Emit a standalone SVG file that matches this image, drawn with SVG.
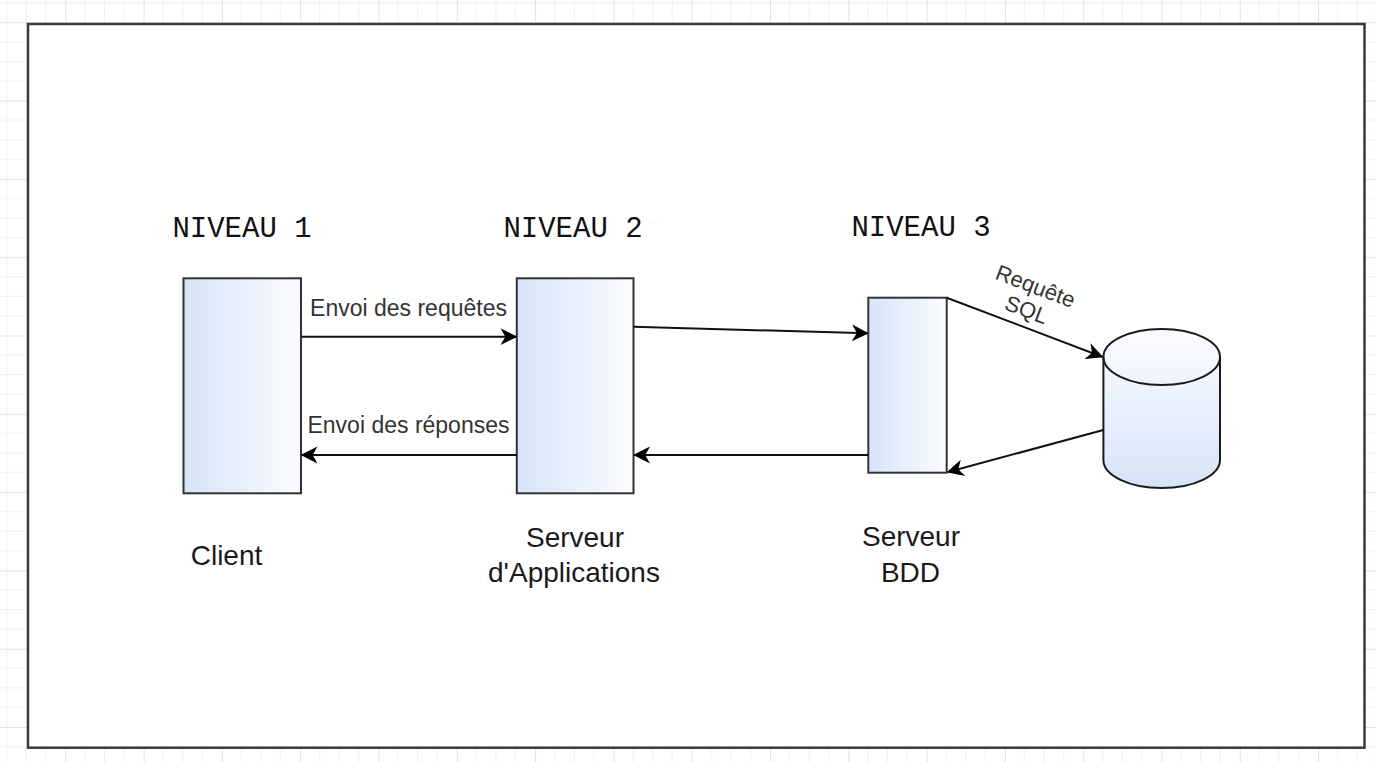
<svg xmlns="http://www.w3.org/2000/svg" width="1376" height="762" viewBox="0 0 1376 762">
  <style>
    .frame{fill:#ffffff;stroke:#3a3a3a;stroke-width:2.5}
    .box{fill:url(#boxGrad);stroke:#333333;stroke-width:2}
    .cyl{fill:url(#cylGrad);stroke:#1a1a1a;stroke-width:2}
    .conn{fill:none;stroke:#111111;stroke-width:2;marker-end:url(#arr)}
    .lbl{font-family:"Liberation Sans",Arial,sans-serif;font-size:23px;fill:#333333;text-anchor:middle}
    .lvl{font-family:"Liberation Mono","Courier New",monospace;font-size:29px;fill:#111111;text-anchor:middle}
    .name{font-family:"Liberation Sans",Arial,sans-serif;font-size:28px;fill:#1a1a1a;text-anchor:middle}
    .sql{font-family:"Liberation Sans",Arial,sans-serif;font-size:22px;fill:#333333;text-anchor:middle}
    .gmin{stroke:#efefef;stroke-width:1}
    .gmaj{stroke:#e2e2e2;stroke-width:1}
  </style>
  <defs>
    <pattern id="grid" patternUnits="userSpaceOnUse" x="65.3" y="22.3" width="78.3" height="78.3">
      <line class="gmin" x1="19.575" y1="0" x2="19.575" y2="78.3"/>
      <line class="gmin" x1="39.15" y1="0" x2="39.15" y2="78.3"/>
      <line class="gmin" x1="58.725" y1="0" x2="58.725" y2="78.3"/>
      <line class="gmin" x1="0" y1="19.575" x2="78.3" y2="19.575"/>
      <line class="gmin" x1="0" y1="39.15" x2="78.3" y2="39.15"/>
      <line class="gmin" x1="0" y1="58.725" x2="78.3" y2="58.725"/>
      <line class="gmaj" x1="0.5" y1="0" x2="0.5" y2="78.3"/>
      <line class="gmaj" x1="0" y1="0.5" x2="78.3" y2="0.5"/>
    </pattern>
    <linearGradient id="boxGrad" x1="0" y1="0" x2="1" y2="0">
      <stop offset="0" stop-color="#d6e4f8"/>
      <stop offset="1" stop-color="#fafcff"/>
    </linearGradient>
    <linearGradient id="cylGrad" x1="0" y1="0" x2="0" y2="1">
      <stop offset="0" stop-color="#fbfcff"/>
      <stop offset="1" stop-color="#d6e4f8"/>
    </linearGradient>
    <marker id="arr" viewBox="-16 -9 18 18" refX="0" refY="0" markerWidth="18" markerHeight="18" orient="auto" markerUnits="userSpaceOnUse">
      <path d="M0,0 L-14,-7 L-10,0 L-14,7 Z" fill="#000000" stroke="#000000" stroke-width="1.2" stroke-linejoin="miter"/>
    </marker>
  </defs>

  <rect x="0" y="0" width="1376" height="762" fill="#ffffff"/>
  <rect x="0" y="0" width="1376" height="762" fill="url(#grid)"/>
  <rect class="frame" x="28" y="24" width="1336.5" height="723.7"/>

  <g id="level-labels">
    <text class="lvl" x="242" y="237">NIVEAU 1</text>
    <text class="lvl" x="573" y="237">NIVEAU 2</text>
    <text class="lvl" x="921" y="236">NIVEAU 3</text>
  </g>

  <g id="client">
    <rect class="box" x="183.5" y="278.3" width="117.5" height="215"/>
    <text class="name" x="226.5" y="565">Client</text>
  </g>

  <g id="app-server">
    <rect class="box" x="516.8" y="278.3" width="116.7" height="215"/>
    <text class="name" x="575" y="547">Serveur</text>
    <text class="name" x="574" y="582">d'Applications</text>
  </g>

  <g id="db-server">
    <rect class="box" x="868.3" y="297.7" width="78.4" height="175"/>
    <text class="name" x="911" y="546">Serveur</text>
    <text class="name" x="910.5" y="582">BDD</text>
  </g>

  <g id="database">
    <path class="cyl" d="M1103.4,357 A58.3,28 0 0 1 1220,357 L1220,460 A58.3,28 0 0 1 1103.4,460 Z"/>
    <path fill="none" stroke="#1a1a1a" stroke-width="2" d="M1103.4,357 A58.3,28 0 0 0 1220,357"/>
  </g>

  <g id="connectors">
    <line class="conn" x1="301" y1="336.7" x2="516" y2="336.7"/>
    <line class="conn" x1="516.8" y1="455" x2="302" y2="455"/>
    <line class="conn" x1="633.5" y1="326.7" x2="867.5" y2="333.3"/>
    <line class="conn" x1="868.3" y1="455" x2="634.5" y2="455"/>
    <line class="conn" x1="946.7" y1="297.7" x2="1102" y2="356.7"/>
    <line class="conn" x1="1103.4" y1="430" x2="948" y2="472"/>
    <text class="lbl" x="408.5" y="315.5">Envoi des requêtes</text>
    <text class="lbl" x="408.5" y="433">Envoi des réponses</text>
    <g transform="translate(1031,298) rotate(20.8)">
      <text class="sql" x="0" y="-5">Requête</text>
      <text class="sql" x="0" y="20">SQL</text>
    </g>
  </g>
</svg>
